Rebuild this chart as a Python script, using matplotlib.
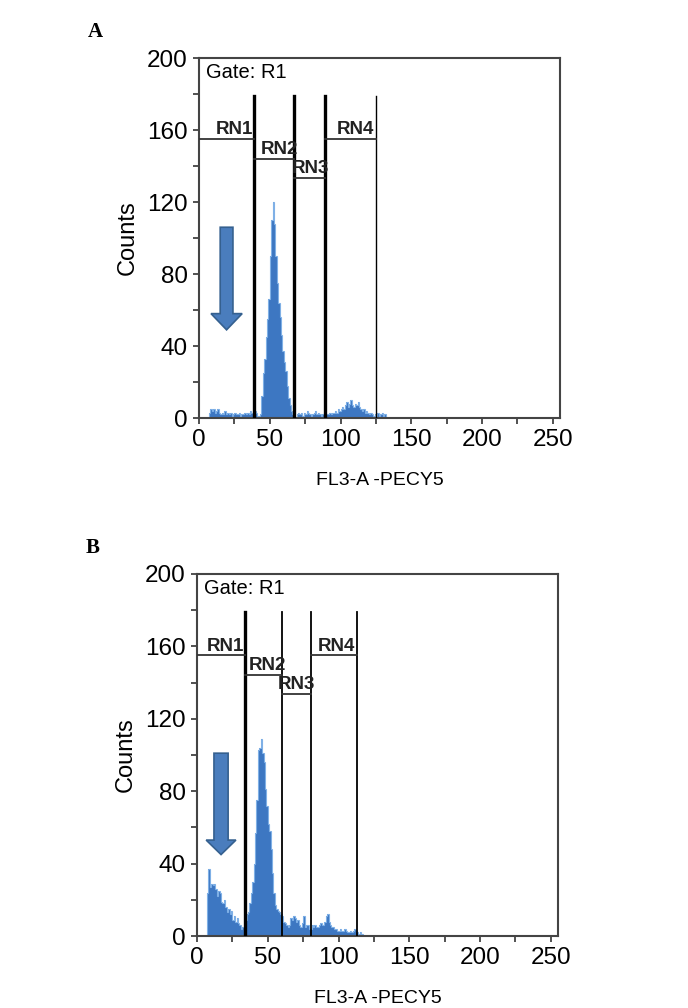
import numpy as np
import matplotlib
matplotlib.use("Agg")
import matplotlib.pyplot as plt
from matplotlib.patches import FancyArrow
from matplotlib.ticker import MultipleLocator

plt.rcParams['font.family'] = ['Liberation Sans', 'DejaVu Sans']

# --------------------------------------------------
# data (counts per channel)
# --------------------------------------------------
a_start = 7
a_counts = [3, 5, 4, 5, 3, 4, 5, 3, 2, 3, 2, 4, 2, 3, 2, 3, 1, 2, 3, 2,
            2, 3, 1, 2, 2, 3, 2, 3, 2, 4, 3, 4,
            4, 3, 1, 1, 2,
            12, 25, 33, 45, 55, 66, 90, 110, 120, 108, 90, 75, 64, 56, 46,
            37, 31, 26, 18, 11, 7, 4, 2,
            1, 0, 2, 3, 2, 3, 1, 3, 2, 4, 3, 2, 1, 2, 3, 4, 2, 3, 2, 1, 2, 3,
            1, 2, 2, 3, 2, 3, 3, 4, 3, 5, 4, 5, 6, 5, 7, 9, 6, 8, 10, 7,
            6, 8, 7, 9, 6, 5, 4, 5, 3, 4, 3, 2, 3, 2, 1, 2, 1,
            3, 1, 2, 3, 1, 2]

b_start = 7
b_counts = [24, 37, 27, 29, 28, 29, 26, 22, 25, 24, 19, 18, 20, 16, 13, 15,
            12, 14, 9, 11, 8, 10, 7, 6, 4, 5, 3,
            9, 12, 13, 18, 24, 30, 40, 57, 75, 103, 104, 109, 101, 96, 81,
            72, 62, 58, 48, 35, 24, 17, 15, 14, 13, 12,
            11, 8, 7, 6, 5, 6, 10, 9, 11, 10, 8, 9, 6, 5, 7, 11, 5, 6, 6, 4, 4,
            6, 5, 6, 5, 5, 6, 7, 6, 6, 8, 11, 12, 8, 6, 5, 5, 4, 4, 3, 3,
            4, 3, 3, 4, 3, 2, 2, 3, 2, 3, 4, 3,
            2, 1, 2, 1]

# gate markers: vertical line positions, bar heights, labels
gate_labels = ["RN1", "RN2", "RN3", "RN4"]
gate_bar_y = [155, 144, 133.5, 155]
a_lines = [39, 67, 89, 125]
a_line_w = [2.4, 2.4, 2.4, 1.0]
b_lines = [34, 60, 80.5, 113]
b_line_w = [2.4, 1.3, 1.3, 1.3]
line_top = 179

# block arrows (x centre, top, tip, shaft width, head width, head length)
a_arrow = [19.5, 106, 49, 9, 22, 9]
b_arrow = [17, 101, 45, 10, 21, 8]

panels = [
    ("A", [0.2892, 0.5853, 0.5247, 0.3571], a_start, a_counts, a_lines, a_line_w, a_arrow),
    ("B", [0.2863, 0.0714, 0.5247, 0.3592], b_start, b_counts, b_lines, b_line_w, b_arrow),
]

fig = plt.figure(figsize=(6.88, 10.08), dpi=100)

for tag, rect, start, counts, lines, lws, arr in panels:
    ax = fig.add_axes(rect)
    counts = np.array(counts, dtype=float)
    edges = np.arange(start, start + counts.size + 1)
    ax.stairs(counts, edges, fill=True, color='#3d77c2', zorder=2)
    ax.stairs(counts, edges, color='#7fb0e6', lw=0.8, zorder=2)

    # gate lines and marker bars
    left = 0
    for i, (xl, lw) in enumerate(zip(lines, lws)):
        ax.plot([xl, xl], [0, line_top], color='black', lw=lw, zorder=3)
        ax.plot([left, xl], [gate_bar_y[i], gate_bar_y[i]], color='#333333', lw=1.3, zorder=3)
        ax.text(xl + (-1 if i in (0, 3) else 3), gate_bar_y[i] + 0.5, gate_labels[i],
                ha='right', va='bottom', fontsize=13.5, fontweight='bold', color='#222222', zorder=4)
        left = xl

    # blue arrow
    xc, ytop, ytip, w, hw, hl = arr
    ax.add_patch(FancyArrow(xc, ytop, 0, ytip - ytop, width=w, head_width=hw, head_length=hl,
                            length_includes_head=True, facecolor='#4a7dbd', edgecolor='#35608f',
                            lw=1.2, zorder=4))

    ax.text(0.02, 0.985, "Gate: R1", transform=ax.transAxes, ha='left', va='top', fontsize=14.5)

    ax.set_xlim(0, 255)
    ax.set_ylim(0, 200)
    ax.xaxis.set_major_locator(MultipleLocator(50))
    ax.xaxis.set_minor_locator(MultipleLocator(25))
    ax.yaxis.set_major_locator(MultipleLocator(40))
    ax.yaxis.set_minor_locator(MultipleLocator(20))
    ax.tick_params(which='both', direction='out', length=4, width=1.2, color='#333333',
                   labelsize=17.5, pad=4)
    for sp in ax.spines.values():
        sp.set_color('#444444')
        sp.set_linewidth(1.5)
    ax.set_ylabel("Counts", fontsize=17, labelpad=6)
    ax.set_xlabel("FL3-A -PECY5", fontsize=14, labelpad=15)

    fig.text(rect[0] - 0.162, rect[1] + rect[3] + 0.016, tag, fontsize=15, fontweight='bold',
             family='Liberation Serif', ha='left', va='bottom')

fig.savefig("out.png", dpi=100)
